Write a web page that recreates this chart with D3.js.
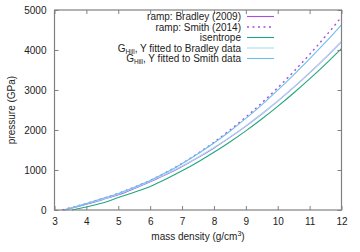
<!DOCTYPE html>
<html>
<head>
<meta charset="utf-8">
<script src="https://cdn.jsdelivr.net/npm/d3@7"></script>
<style>
  body { margin: 0; background: #fff; }
  text { font-family: "Liberation Sans", Arial, sans-serif; font-size: 10px; fill: #222; }
</style>
</head>
<body>
<div id="chart"></div>
<script>
var margin = { top: 10, right: 18.5, bottom: 42, left: 54.5 };
var width = 360 - margin.left - margin.right;
var height = 252 - margin.top - margin.bottom;

// data: density (g/cm3) and pressure (GPa)
var rampBradleyRho = [3.3, 3.5, 4, 4.5, 5, 5.5, 6, 6.5, 7, 7.5, 8, 8.5, 9, 9.5, 10, 10.5, 11, 11.5, 12];
var rampBradleyP   = [0, 40, 145, 260, 380, 535, 705, 885, 1088, 1310, 1552, 1815, 2098, 2400, 2722, 3064, 3426, 3808, 4210];

var rampSmithRho = [3.25, 3.5, 4, 4.5, 5, 5.5, 6, 6.5, 7, 7.5, 8, 8.5, 9, 9.5, 10, 10.5, 11, 11.5, 12];
var rampSmithP   = [0, 55, 165, 285, 415, 570, 740, 940, 1165, 1417, 1694, 1996, 2324, 2677, 3056, 3460, 3890, 4345, 4826];

var isentropeRho = [3.55, 4, 4.5, 5, 5.5, 6, 6.5, 7, 7.5, 8, 8.5, 9, 9.5, 10, 10.5, 11, 11.5, 12];
var isentropeP   = [0, 75, 175, 310, 445, 590, 775, 979, 1201, 1442, 1701, 1979, 2276, 2591, 2925, 3278, 3649, 4039];

var fitBradleyRho = [3.3, 3.5, 4, 4.5, 5, 5.5, 6, 6.5, 7, 7.5, 8, 8.5, 9, 9.5, 10, 10.5, 11, 11.5, 12];
var fitBradleyP   = [0, 45, 155, 270, 395, 550, 720, 900, 1100, 1321, 1561, 1822, 2103, 2405, 2726, 3067, 3429, 3810, 4212];

var fitSmithRho = [3.3, 3.5, 4, 4.5, 5, 5.5, 6, 6.5, 7, 7.5, 8, 8.5, 9, 9.5, 10, 10.5, 11, 11.5, 12];
var fitSmithP   = [0, 45, 160, 285, 415, 570, 740, 935, 1158, 1405, 1675, 1970, 2290, 2630, 2995, 3380, 3780, 4195, 4630];

var xTicks = [3, 4, 5, 6, 7, 8, 9, 10, 11, 12];
var yTicks = [0, 1000, 2000, 3000, 4000, 5000];

var series = [
  { name: "ramp: Bradley (2009)", rho: rampBradleyRho, p: rampBradleyP, color: "#a64fe0", dash: null, w: 1.1 },
  { name: "ramp: Smith (2014)", rho: rampSmithRho, p: rampSmithP, color: "#a64fe0", dash: "2,3.5", w: 1.4 },
  { name: "isentrope", rho: isentropeRho, p: isentropeP, color: "#21a77c", dash: null, w: 1.1 },
  { name: "fitB", sub: "Hill", rest: ", Y fitted to Bradley data", rho: fitBradleyRho, p: fitBradleyP, color: "#a9dcf4", dash: null, w: 1.1 },
  { name: "fitS", sub: "Hill", rest: ", Y fitted to Smith data", rho: fitSmithRho, p: fitSmithP, color: "#6fbfec", dash: null, w: 1.1 }
];

var svg = d3.select("#chart").append("svg")
    .attr("width", 360)
    .attr("height", 252);

var g = svg.append("g")
    .attr("transform", "translate(" + margin.left + "," + margin.top + ")");

var x = d3.scaleLinear().domain([3, 12]).range([0, width]);
var y = d3.scaleLinear().domain([0, 5000]).range([height, 0]);

// curves
var line = d3.line()
    .x(function(d) { return x(d[0]); })
    .y(function(d) { return y(d[1]); })
    .curve(d3.curveMonotoneX);

series.forEach(function(s) {
  var pts = s.rho.map(function(r, i) { return [r, s.p[i]]; });
  g.append("path")
    .attr("d", line(pts))
    .attr("fill", "none")
    .attr("stroke", s.color)
    .attr("stroke-width", s.w)
    .attr("stroke-dasharray", s.dash);
});

// axes (gnuplot style: inward ticks, mirrored)
var tick = 4;
var bottomAxis = d3.axisBottom(x).tickValues(xTicks).tickSizeInner(-tick).tickSizeOuter(0).tickPadding(8).tickFormat(d3.format("d"));
var leftAxis = d3.axisLeft(y).tickValues(yTicks).tickSizeInner(-tick).tickSizeOuter(0).tickPadding(8).tickFormat(d3.format("d"));
var topAxis = d3.axisTop(x).tickValues(xTicks).tickSizeInner(-tick).tickSizeOuter(0).tickFormat("");
var rightAxis = d3.axisRight(y).tickValues(yTicks).tickSizeInner(-tick).tickSizeOuter(0).tickFormat("");

function styleAxis(sel) {
  sel.select(".domain").remove();
  sel.selectAll(".tick line").attr("stroke", "#808080");
  sel.selectAll(".tick text").attr("fill", "#222").style("font-size", "10px")
    .style("font-family", '"Liberation Sans", Arial, sans-serif');
}

g.append("g").attr("transform", "translate(0," + height + ")").call(bottomAxis).call(styleAxis);
g.append("g").call(leftAxis).call(styleAxis);
g.append("g").call(topAxis).call(styleAxis);
g.append("g").attr("transform", "translate(" + width + ",0)").call(rightAxis).call(styleAxis);

g.append("rect")
    .attr("width", width)
    .attr("height", height)
    .attr("fill", "none")
    .attr("stroke", "#808080")
    .attr("stroke-width", 1.2);

// axis labels
svg.append("text")
    .attr("transform", "translate(15," + (margin.top + height / 2) + ") rotate(-90)")
    .attr("text-anchor", "middle")
    .text("pressure (GPa)");

var xl = svg.append("text")
    .attr("x", margin.left + width / 2)
    .attr("y", 240)
    .attr("text-anchor", "middle");
xl.append("tspan").text("mass density (g/cm");
xl.append("tspan").attr("dy", -4).style("font-size", "7px").text("3");
xl.append("tspan").attr("dy", 4).text(")");

// legend
var legY = [16.5, 27, 37.5, 48, 58.5];
var lg = svg.append("g");
series.forEach(function(s, i) {
  var t = lg.append("text")
    .attr("x", 241)
    .attr("y", legY[i] + 3.5)
    .attr("text-anchor", "end");
  if (s.sub) {
    t.append("tspan").text("G");
    t.append("tspan").attr("dy", 2).style("font-size", "6.5px").text(s.sub);
    t.append("tspan").attr("dy", -2).text(s.rest);
  } else {
    t.text(s.name);
  }
  lg.append("line")
    .attr("x1", 247).attr("x2", 274)
    .attr("y1", legY[i]).attr("y2", legY[i])
    .attr("stroke", s.color)
    .attr("stroke-width", s.w)
    .attr("stroke-dasharray", s.dash);
});
</script>
</body>
</html>
